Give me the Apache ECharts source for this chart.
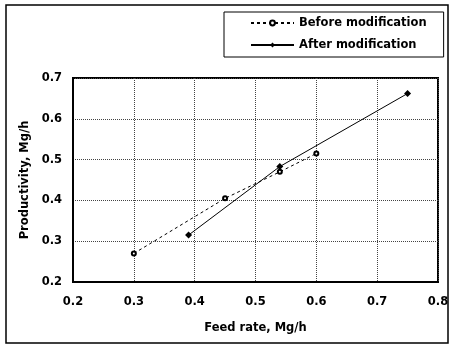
<!DOCTYPE html>
<html lang="en">
<head>
  <meta charset="UTF-8">
  <title>Productivity vs feed rate</title>
  <script type="text/javascript" src="https://cdn.jsdelivr.net/npm/echarts@6/dist/echarts.min.js"></script>
  <style>
    body { margin: 0; background: #fff; }
    #target { width: 452px; height: 347px; }
  </style>
</head>
<body>
  <div id="target"></div>
  <script type="text/javascript">
    // data
    const beforeX = [0.3, 0.45, 0.54, 0.6];
    const beforeY = [0.27, 0.405, 0.47, 0.515];
    const afterX = [0.39, 0.54, 0.75];
    const afterY = [0.315, 0.483, 0.662];
    const seriesNames = ['Before modification', 'After modification'];

    const font = { fontFamily: 'DejaVu Sans', fontWeight: 'bold', fontSize: 11.5, color: '#000' };
    const pairs = (xs, ys) => xs.map((x, i) => [x, ys[i]]);

    const option = {
      animation: false,
      textStyle: { fontFamily: 'DejaVu Sans' },
      graphic: [{
        type: 'rect',
        shape: { x: 6, y: 5, width: 442, height: 338 },
        style: { fill: 'none', stroke: '#000', lineWidth: 1.5 }
      }],
      legend: {
        orient: 'vertical',
        left: 224,
        top: 12,
        padding: [5, 17, 6, 26],
        itemGap: 10,
        itemWidth: 43,
        itemHeight: 6,
        borderColor: '#000',
        borderWidth: 1,
        textStyle: Object.assign({}, font),
        data: seriesNames
      },
      grid: {
        left: 73, right: 14, top: 78, bottom: 65,
        show: true, borderColor: '#000', borderWidth: 2
      },
      xAxis: {
        type: 'value', min: 0.2, max: 0.8, interval: 0.1,
        name: 'Feed rate, Mg/h', nameLocation: 'middle', nameGap: 40,
        nameTextStyle: Object.assign({}, font),
        axisLine: { lineStyle: { color: '#000', width: 2 } },
        axisTick: { show: false },
        axisLabel: Object.assign({ margin: 14, formatter: v => v.toFixed(1) }, font),
        splitLine: { lineStyle: { color: '#444', type: [1, 1], width: 1 } }
      },
      yAxis: {
        type: 'value', min: 0.2, max: 0.7, interval: 0.1,
        name: 'Productivity, Mg/h', nameLocation: 'middle', nameGap: 39,
        nameTextStyle: Object.assign({}, font),
        axisLine: { show: true, lineStyle: { color: '#000', width: 2 } },
        axisTick: { show: false },
        axisLabel: Object.assign({ margin: 11, formatter: v => v.toFixed(1) }, font),
        splitLine: { lineStyle: { color: '#444', type: [1, 1], width: 1 } }
      },
      series: [
        {
          name: seriesNames[0],
          type: 'line',
          data: pairs(beforeX, beforeY),
          symbol: 'emptyCircle',
          symbolSize: 4,
          lineStyle: { color: '#000', width: 1, type: [3, 3] },
          itemStyle: { color: '#000', borderColor: '#000', borderWidth: 1 }
        },
        {
          name: seriesNames[1],
          type: 'line',
          data: pairs(afterX, afterY),
          symbol: 'diamond',
          symbolSize: 7,
          lineStyle: { color: '#000', width: 1 },
          itemStyle: { color: '#000' }
        }
      ]
    };
    echarts.init(document.getElementById('target')).setOption(option, true);
  </script>
</body>
</html>
